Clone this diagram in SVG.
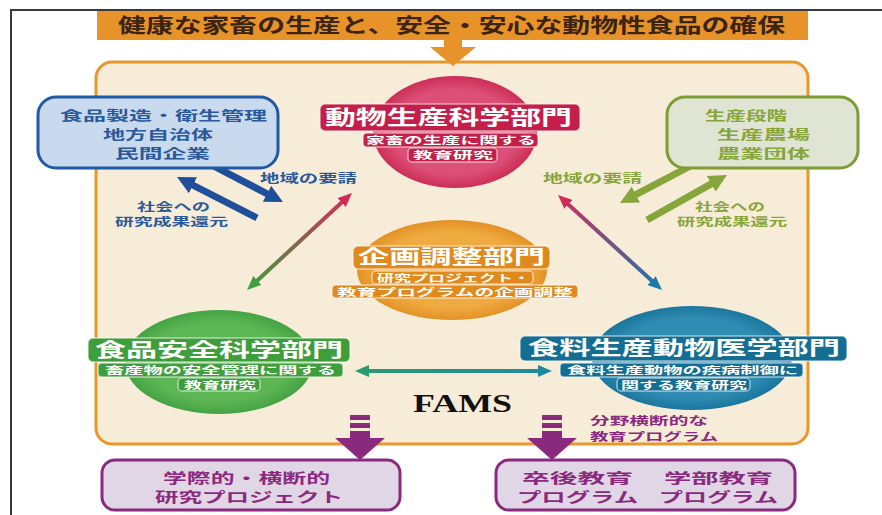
<svg xmlns="http://www.w3.org/2000/svg" width="882" height="515" viewBox="0 0 882 515">
<style>
text{font-family:"Noto Sans CJK JP","Noto Sans",sans-serif;font-weight:bold}
.w{fill:#fff}
.bl{fill:#2a5a9c}
.ol{fill:#86a53a}
.pu{fill:#8a2a7e}
.lb{stroke:#fff;stroke-opacity:.55;stroke-width:1.5}
.box{stroke-width:3}
</style>
<defs>
<marker id="mBlue" viewBox="0 0 18 18" markerWidth="18" markerHeight="18" refX="6" refY="9" markerUnits="userSpaceOnUse" orient="auto"><path d="M0,0L18,9L0,18z" fill="#1f4f9a"/></marker>
<marker id="mOlive" viewBox="0 0 18 18" markerWidth="18" markerHeight="18" refX="6" refY="9" markerUnits="userSpaceOnUse" orient="auto"><path d="M0,0L18,9L0,18z" fill="#86a53a"/></marker>
<marker id="mGreen" viewBox="0 0 14 12" markerWidth="14" markerHeight="12" refX="4" refY="6" markerUnits="userSpaceOnUse" orient="auto-start-reverse"><path d="M0,0L14,6L0,12z" fill="#3f9e40"/></marker>
<marker id="mCrimson" viewBox="0 0 14 12" markerWidth="14" markerHeight="12" refX="4" refY="6" markerUnits="userSpaceOnUse" orient="auto-start-reverse"><path d="M0,0L14,6L0,12z" fill="#d42a5a"/></marker>
<marker id="mTeal" viewBox="0 0 14 12" markerWidth="14" markerHeight="12" refX="4" refY="6" markerUnits="userSpaceOnUse" orient="auto-start-reverse"><path d="M0,0L14,6L0,12z" fill="#1a7aa8"/></marker>
<marker id="mGreenTeal" viewBox="0 0 14 12" markerWidth="14" markerHeight="12" refX="4" refY="6" markerUnits="userSpaceOnUse" orient="auto-start-reverse"><path d="M0,0L14,6L0,12z" fill="#2a9a70"/></marker>
<marker id="mTeal2" viewBox="0 0 14 12" markerWidth="14" markerHeight="12" refX="4" refY="6" markerUnits="userSpaceOnUse" orient="auto-start-reverse"><path d="M0,0L14,6L0,12z" fill="#1e8aa0"/></marker>
<linearGradient id="g1" gradientUnits="userSpaceOnUse" x1="247" y1="290" x2="352" y2="193"><stop offset="0" stop-color="#3f9e40"/><stop offset="1" stop-color="#d42a5a"/></linearGradient>
<linearGradient id="g2" gradientUnits="userSpaceOnUse" x1="558" y1="195" x2="662" y2="290"><stop offset="0" stop-color="#d42a5a"/><stop offset="1" stop-color="#1a7aa8"/></linearGradient>
<linearGradient id="g3" gradientUnits="userSpaceOnUse" x1="355" y1="371" x2="552" y2="371"><stop offset="0" stop-color="#2a9a70"/><stop offset="1" stop-color="#1e8aa0"/></linearGradient>
<radialGradient id="rC"><stop offset="0.75" stop-color="#dc5077"/><stop offset="1" stop-color="#cc2e58"/></radialGradient>
<radialGradient id="rO"><stop offset="0.75" stop-color="#efaa40"/><stop offset="1" stop-color="#e39226"/></radialGradient>
<radialGradient id="rG"><stop offset="0.75" stop-color="#5db654"/><stop offset="1" stop-color="#45a344"/></radialGradient>
<radialGradient id="rT"><stop offset="0.75" stop-color="#2f8db3"/><stop offset="1" stop-color="#1c769e"/></radialGradient>
</defs>
<rect width="882" height="515" fill="#fff"/>
<path d="M11,515V10H882" fill="none" stroke="#3a3a3a" stroke-width="2"/>

<g id="frame">
<rect x="96" y="62" width="712" height="382" rx="16" fill="#f7ecd8" stroke="#e8972a" stroke-width="3"/>
</g>

<g id="banner">
<rect x="97" y="11" width="711" height="29" fill="#e8922a"/>
<text x="118" y="33" font-size="20" fill="#3b2412" textLength="667" lengthAdjust="spacingAndGlyphs">健康な家畜の生産と、安全・安心な動物性食品の確保</text>
</g>

<g id="connectors">
<path d="M444,40H462V47H476L453,66L430,47H444z" fill="#e8922a"/>
<line x1="204" y1="161" x2="272.3" y2="196.5" stroke="#1f4f9a" stroke-width="7" marker-end="url(#mBlue)"/>
<line x1="257" y1="218" x2="187.7" y2="182.5" stroke="#1f4f9a" stroke-width="7" marker-end="url(#mBlue)"/>
<line x1="698" y1="162" x2="630.6" y2="197.4" stroke="#86a53a" stroke-width="7" marker-end="url(#mOlive)"/>
<line x1="647" y1="220" x2="716.5" y2="180.9" stroke="#86a53a" stroke-width="7" marker-end="url(#mOlive)"/>
<line x1="254.4" y1="283.2" x2="344.6" y2="199.8" stroke="url(#g1)" stroke-width="4" marker-start="url(#mGreen)" marker-end="url(#mCrimson)"/>
<line x1="565.4" y1="201.7" x2="654.6" y2="283.3" stroke="url(#g2)" stroke-width="4" marker-start="url(#mCrimson)" marker-end="url(#mTeal)"/>
<line x1="365" y1="371" x2="542" y2="371" stroke="url(#g3)" stroke-width="4" marker-start="url(#mGreenTeal)" marker-end="url(#mTeal2)"/>
<g fill="#8a2a7e">
<rect x="350" y="415" width="20" height="5"/><rect x="350" y="423" width="20" height="5"/><rect x="350" y="431" width="20" height="7"/>
<path d="M335,438H385L360,460z"/>
<rect x="542" y="415" width="20" height="5"/><rect x="542" y="423" width="20" height="5"/><rect x="542" y="431" width="20" height="7"/>
<path d="M527,438H577L552,460z"/>
</g>
<text class="bl" x="260" y="183" font-size="12" textLength="97" lengthAdjust="spacingAndGlyphs">地域の要請</text>
<text class="bl" x="137" y="211" font-size="11" textLength="73" lengthAdjust="spacingAndGlyphs">社会への</text>
<text class="bl" x="115" y="226" font-size="11" textLength="113" lengthAdjust="spacingAndGlyphs">研究成果還元</text>
<text class="ol" x="543" y="183" font-size="12" textLength="99" lengthAdjust="spacingAndGlyphs">地域の要請</text>
<text class="ol" x="695" y="211" font-size="11" textLength="70" lengthAdjust="spacingAndGlyphs">社会への</text>
<text class="ol" x="677" y="226" font-size="11" textLength="110" lengthAdjust="spacingAndGlyphs">研究成果還元</text>
<text class="pu" x="590" y="425" font-size="11" textLength="118" lengthAdjust="spacingAndGlyphs">分野横断的な</text>
<text class="pu" x="590" y="441" font-size="11" textLength="128" lengthAdjust="spacingAndGlyphs">教育プログラム</text>
</g>

<g id="node-left">
<rect class="box" x="38" y="97" width="240" height="71" rx="18" fill="#c9d9ee" stroke="#1f5aa5"/>
<text class="bl" x="60" y="120" font-size="13" textLength="207" lengthAdjust="spacingAndGlyphs">食品製造・衛生管理</text>
<text class="bl" x="103" y="139" font-size="13" textLength="110" lengthAdjust="spacingAndGlyphs">地方自治体</text>
<text class="bl" x="115" y="158" font-size="13" textLength="95" lengthAdjust="spacingAndGlyphs">民間企業</text>
</g>

<g id="node-right">
<rect class="box" x="667" y="97" width="191" height="71" rx="18" fill="#dfe4d3" stroke="#7d9c35"/>
<text class="ol" x="705" y="120" font-size="13" textLength="82" lengthAdjust="spacingAndGlyphs">生産段階</text>
<text class="ol" x="717" y="139" font-size="13" textLength="93" lengthAdjust="spacingAndGlyphs">生産農場</text>
<text class="ol" x="717" y="158" font-size="13" textLength="93" lengthAdjust="spacingAndGlyphs">農業団体</text>
</g>

<g id="node-animal">
<ellipse cx="455" cy="132" rx="82" ry="56" fill="url(#rC)"/>
<rect class="lb" x="320" y="104" width="260" height="27" rx="5" fill="#c41f4a"/>
<rect class="lb" x="363" y="133" width="175" height="14" rx="4" fill="#c41f4a"/>
<rect class="lb" x="408" y="148" width="89" height="14" rx="4" fill="#c41f4a"/>
<text class="w" x="325" y="125" font-size="20" textLength="247" lengthAdjust="spacingAndGlyphs">動物生産科学部門</text>
<text class="w" x="366" y="144" font-size="10" textLength="170" lengthAdjust="spacingAndGlyphs">家畜の生産に関する</text>
<text class="w" x="413" y="159" font-size="10" textLength="80" lengthAdjust="spacingAndGlyphs">教育研究</text>
</g>

<g id="node-plan">
<ellipse cx="452" cy="270" rx="95" ry="50" fill="url(#rO)"/>
<rect class="lb" x="353" y="246" width="197" height="23" rx="5" fill="#e08a1e"/>
<rect class="lb" x="372" y="271" width="161" height="13" rx="4" fill="#e08a1e"/>
<rect class="lb" x="332" y="285" width="246" height="13" rx="4" fill="#e08a1e"/>
<text class="w" x="358" y="264" font-size="19" textLength="187" lengthAdjust="spacingAndGlyphs">企画調整部門</text>
<text class="w" x="377" y="282" font-size="10" textLength="153" lengthAdjust="spacingAndGlyphs">研究プロジェクト・</text>
<text class="w" x="337" y="296" font-size="10" textLength="236" lengthAdjust="spacingAndGlyphs">教育プログラムの企画調整</text>
</g>

<g id="node-food">
<ellipse cx="219" cy="362" rx="94" ry="52" fill="url(#rG)"/>
<rect class="lb" x="88" y="338" width="262" height="24" rx="5" fill="#3f9e3c"/>
<rect class="lb" x="98" y="363" width="245" height="14" rx="4" fill="#3f9e3c"/>
<rect class="lb" x="178" y="378" width="82" height="13" rx="4" fill="#3f9e3c"/>
<text class="w" x="95" y="357" font-size="19" textLength="248" lengthAdjust="spacingAndGlyphs">食品安全科学部門</text>
<text class="w" x="105" y="374" font-size="10" textLength="231" lengthAdjust="spacingAndGlyphs">畜産物の安全管理に関する</text>
<text class="w" x="184" y="389" font-size="10" textLength="72" lengthAdjust="spacingAndGlyphs">教育研究</text>
</g>

<g id="node-vet">
<ellipse cx="692" cy="358" rx="100" ry="52" fill="url(#rT)"/>
<rect class="lb" x="520" y="336" width="327" height="25" rx="5" fill="#146e93"/>
<rect class="lb" x="560" y="363" width="243" height="14" rx="4" fill="#146e93"/>
<rect class="lb" x="617" y="378" width="133" height="13" rx="4" fill="#146e93"/>
<text class="w" x="528" y="355" font-size="19" textLength="312" lengthAdjust="spacingAndGlyphs">食料生産動物医学部門</text>
<text class="w" x="567" y="374" font-size="10" textLength="231" lengthAdjust="spacingAndGlyphs">食料生産動物の疾病制御に</text>
<text class="w" x="621" y="389" font-size="10" textLength="126" lengthAdjust="spacingAndGlyphs">関する教育研究</text>
</g>

<g id="fams">
<text x="413" y="412" font-size="26" fill="#111" style="font-family:'Liberation Serif',serif" textLength="99" lengthAdjust="spacingAndGlyphs">FAMS</text>
</g>

<g id="node-research">
<rect class="box" x="102" y="460" width="298" height="50" rx="13" fill="#e1d6e6" stroke="#8a2a7e"/>
<text class="pu" x="163" y="483" font-size="14" textLength="167" lengthAdjust="spacingAndGlyphs">学際的・横断的</text>
<text class="pu" x="155" y="502" font-size="14" textLength="188" lengthAdjust="spacingAndGlyphs">研究プロジェクト</text>
</g>

<g id="node-edu">
<rect class="box" x="496" y="460" width="299" height="50" rx="13" fill="#e1d6e6" stroke="#8a2a7e"/>
<text class="pu" x="522" y="483" font-size="14" textLength="111" lengthAdjust="spacingAndGlyphs">卒後教育</text>
<text class="pu" x="664" y="483" font-size="14" textLength="109" lengthAdjust="spacingAndGlyphs">学部教育</text>
<text class="pu" x="517" y="502" font-size="14" textLength="121" lengthAdjust="spacingAndGlyphs">プログラム</text>
<text class="pu" x="659" y="502" font-size="14" textLength="119" lengthAdjust="spacingAndGlyphs">プログラム</text>
</g>
</svg>
